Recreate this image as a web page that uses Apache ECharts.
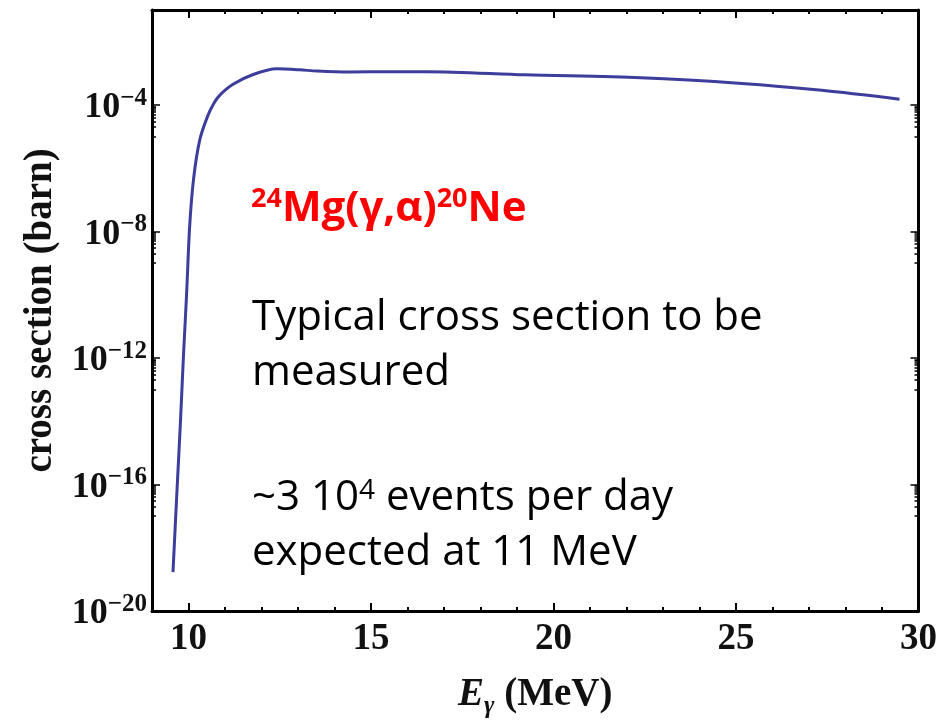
<!DOCTYPE html>
<html>
<head>
<meta charset="utf-8">
<script src="https://cdn.jsdelivr.net/npm/echarts@6/dist/echarts.min.js"></script>
<style>
    html, body { margin: 0; padding: 0; background: #fff; }
    #main { width: 940px; height: 724px; }
</style>
</head>
<body>
<div id="main"></div>
<script>
'use strict';
// 光子能量 (MeV)
var energy = [9.575, 9.69, 9.78, 9.86, 9.95, 10.03, 10.14, 10.31, 10.53, 10.70, 10.86, 11.22, 11.77, 12.42, 13.05, 13.52, 14.42, 15.5, 16.56, 19.21, 22.39, 25.16, 27.35, 29.48];
// 截面的 log10 值 (barn)
var logSigma = [-18.77, -16.07, -14.01, -11.98, -9.93, -7.87, -6.33, -5.10, -4.34, -3.94, -3.69, -3.35, -3.04, -2.86, -2.89, -2.93, -2.96, -2.95, -2.95, -3.05, -3.14, -3.32, -3.54, -3.82];
// 刻度
var xMajor = [10, 15, 20, 25, 30];
var xMinor = [10, 11, 12, 13, 14, 15, 16, 17, 18, 19, 20, 21, 22, 23, 24, 25, 26, 27, 28, 29, 30];
var yMajor = [-20, -16, -12, -8, -4];

var chart = echarts.init(document.getElementById('main'));

// 每个主刻度下方一个十进位的对数小刻度
var yMinor = [];
yMajor.slice(1).forEach(function (m) {
    for (var k = 1; k <= 9; k++) {
        yMinor.push(m - 1 + Math.log10(k));
    }
});

var serif = 'Liberation Serif';
var sans = 'Open Sans';
var black = '#000';

function xAxisOf(position, values, len, showLine, showLabel) {
    return {
        type: 'value',
        position: position,
        min: 9,
        max: 30,
        splitLine: { show: false },
        axisLine: { show: showLine, lineStyle: { color: black, width: 3 } },
        axisTick: { show: true, inside: true, length: len, customValues: values, lineStyle: { color: black, width: 2 } },
        axisLabel: {
            show: showLabel,
            customValues: xMajor,
            margin: 10,
            color: '#111',
            fontFamily: serif,
            fontWeight: 'bold',
            fontSize: 37
        }
    };
}

function yAxisOf(position, values, len, showLine, showLabel) {
    return {
        type: 'value',
        position: position,
        min: -20,
        max: -1,
        splitLine: { show: false },
        axisLine: { show: showLine, lineStyle: { color: black, width: 3 } },
        axisTick: { show: true, inside: true, length: len, customValues: values, lineStyle: { color: black, width: 1.5 } },
        axisLabel: {
            show: showLabel,
            customValues: yMajor,
            margin: 5,
            formatter: function (v) {
                return '{b|10}{s|\u2212' + Math.abs(Math.round(v)) + '}';
            },
            rich: {
                b: { fontFamily: serif, fontWeight: 'bold', fontSize: 36, lineHeight: 38, padding: [6, 0, 0, 0], color: '#111' },
                s: { fontFamily: serif, fontWeight: 'bold', fontSize: 25, lineHeight: 25, verticalAlign: 'top', color: '#111' }
            }
        }
    };
}

var xAxes = [
    xAxisOf('bottom', xMajor, 8, true, true),
    xAxisOf('bottom', xMinor, 4, false, false),
    xAxisOf('top', xMajor, 8, true, false),
    xAxisOf('top', xMinor, 4, false, false)
];
xAxes[0].name = '{i|E}{sub|\u03b3}{n| (MeV)}';
xAxes[0].nameLocation = 'middle';
xAxes[0].nameGap = 60;
xAxes[0].nameTextStyle = {
    rich: {
        i: { fontFamily: serif, fontStyle: 'italic', fontWeight: 'bold', fontSize: 39, lineHeight: 48, color: '#111' },
        sub: { fontFamily: serif, fontStyle: 'italic', fontWeight: 'bold', fontSize: 25, lineHeight: 48, verticalAlign: 'bottom', color: '#111' },
        n: { fontFamily: serif, fontWeight: 'bold', fontSize: 39, lineHeight: 48, color: '#111' }
    }
};

var yAxes = [
    yAxisOf('left', yMajor, 8, true, true),
    yAxisOf('left', yMinor, 4, false, false),
    yAxisOf('right', yMajor, 8, true, false),
    yAxisOf('right', yMinor, 4, false, false)
];
yAxes[0].name = 'cross section (barn)';
yAxes[0].nameLocation = 'middle';
yAxes[0].nameGap = 88;
yAxes[0].nameTextStyle = { fontFamily: serif, fontWeight: 'bold', fontSize: 39, color: '#111' };

var option = {
    animation: false,
    backgroundColor: '#fff',
    grid: { left: 152, right: 21, top: 10, bottom: 96 },
    xAxis: xAxes,
    yAxis: yAxes,
    series: [{
        type: 'line',
        xAxisIndex: 0,
        yAxisIndex: 0,
        showSymbol: false,
        smooth: 0.3,
        lineStyle: { color: '#3d3d9c', width: 3 },
        data: energy.map(function (e, i) {
            return [e, logSigma[i]];
        })
    }],
    graphic: [{
        type: 'text',
        left: 251,
        top: 184,
        style: {
            text: '{sup|24}{big|Mg(\u03b3,\u03b1)}{sup|20}{big|Ne}',
            rich: {
                sup: { fontFamily: sans, fontWeight: 'bold', fontSize: 27, lineHeight: 27, verticalAlign: 'top', padding: [2, 0, 0, 0], fill: '#ff0000' },
                big: { fontFamily: sans, fontWeight: 'bold', fontSize: 42, lineHeight: 50, fill: '#ff0000' }
            }
        }
    }, {
        type: 'text',
        left: 252,
        top: 291,
        style: {
            text: 'Typical cross section to be\nmeasured',
            font: '42px "Open Sans"',
            lineHeight: 55,
            fill: black
        }
    }, {
        type: 'text',
        left: 252,
        top: 471,
        style: {
            text: '{t|~3 10}{sup|4}{t| events per day}\n{t|expected at 11 MeV}',
            rich: {
                t: { fontFamily: sans, fontSize: 42, lineHeight: 55, fill: black },
                sup: { fontFamily: sans, fontSize: 28, lineHeight: 28, verticalAlign: 'top', padding: [6, 0, 0, 0], fill: black }
            }
        }
    }]
};

chart.setOption(option);
</script>
</body>
</html>
